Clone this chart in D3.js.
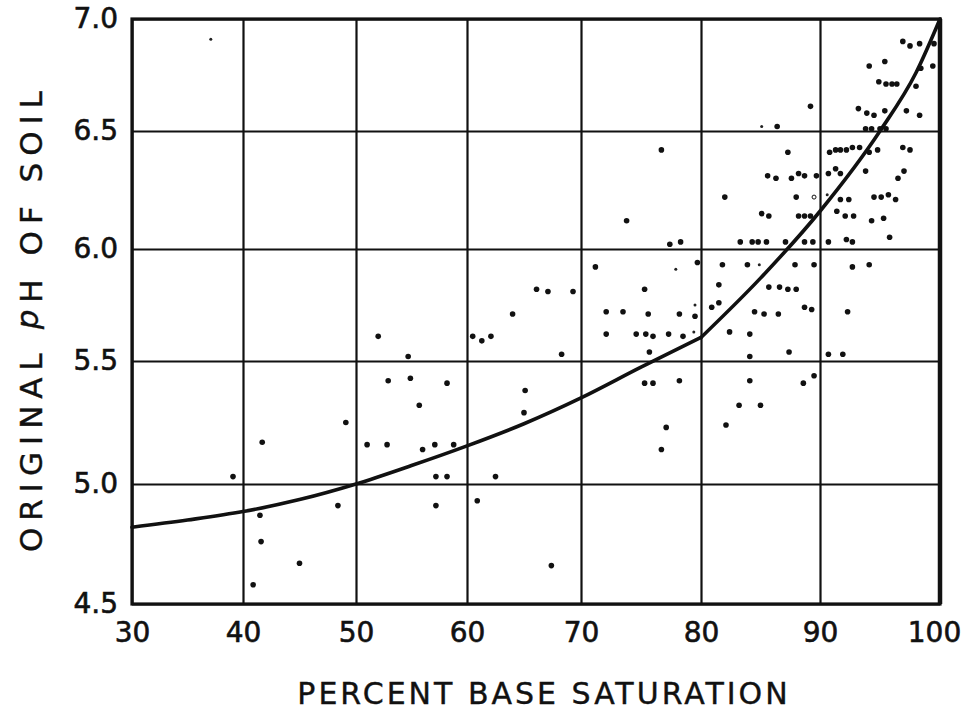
<!DOCTYPE html>
<html><head><meta charset="utf-8">
<script src="https://cdn.jsdelivr.net/npm/d3@7"></script>
<style>html,body{margin:0;padding:0;background:#fff}</style>
</head><body>
<svg id="chart" width="966" height="713"></svg>
<script>
// ---------------- data ----------------
const xTicks = [30, 40, 50, 60, 70, 80, 90, 100];
const yTicks = [4.5, 5.0, 5.5, 6.0, 6.5, 7.0];
const xTickLabels = ["30", "40", "50", "60", "70", "80", "90", "100"];
const yTickLabels = ["4.5", "5.0", "5.5", "6.0", "6.5", "7.0"];
const xTitle = "PERCENT BASE SATURATION";
const yTitleParts = ["ORIGINAL ", "p", "H OF SOIL"];

// fitted curve: percent base saturation vs pH (two pieces, kink at 80%)
const curveLow = [[30,4.82],[35,4.85],[40,4.885],[45,4.935],[50,5.00],[55,5.075],[60,5.155],[65,5.245],[70,5.35],[75,5.475],[80,5.605]];
const curveHigh = [[80,5.605],[85,5.87],[90,6.16],[95,6.50],[98,6.76],[100,7.0]];

// observed soils [percent base saturation, pH]
const points = [
 [39.1,5.03],[41.7,5.17],[41.5,4.87],[41.6,4.76],[40.9,4.58],[45.0,4.67],[48.4,4.91],[49.1,5.25],[51.0,5.16],[52.0,5.61],
 [52.8,5.16],[52.9,5.42],[54.7,5.52],[54.9,5.43],[55.7,5.32],[56.0,5.14],[57.1,5.16],[58.8,5.16],[57.2,5.03],[58.2,5.03],
 [57.2,4.91],[58.2,5.41],[60.5,5.61],[61.3,5.59],[62.1,5.61],[62.5,5.03],[60.9,4.93],[64.0,5.71],[66.1,5.82],[67.1,5.81],
 [69.3,5.81],[68.3,5.53],[65.1,5.38],[65.0,5.29],[67.4,4.66],
 [71.2,5.92],[73.8,6.12],[76.7,6.42],[77.4,6.02],[78.3,6.03],[79.7,5.94],[75.3,5.82],[72.1,5.72],[73.5,5.72],[75.6,5.71],
 [78.2,5.71],[79.5,5.70],[72.1,5.62],[74.6,5.62],[75.4,5.62],[76.0,5.61],[77.3,5.62],[78.5,5.61],[75.7,5.54],[75.3,5.41],
 [76.0,5.41],[78.2,5.42],[77.1,5.23],[76.7,5.14],
 [81.8,5.93],[83.9,5.93],[87.9,5.93],[89.5,5.93],[81.5,5.84],[85.7,5.83],[86.6,5.83],[87.3,5.82],[88.0,5.82],[80.9,5.74],
 [81.5,5.76],[84.5,5.72],[85.3,5.71],[86.5,5.71],[88.7,5.74],[89.3,5.73],[82.4,5.63],[84.1,5.62],[84.1,5.52],[87.4,5.54],
 [84.1,5.42],[88.6,5.41],[89.5,5.44],[83.2,5.32],[85.0,5.32],[82.1,5.24],
 [92.7,5.92],[94.1,5.93],[92.3,5.72],[90.7,5.53],[91.9,5.53],
 [89.2,6.61],[86.4,6.52],[87.3,6.41],[85.6,6.31],[86.3,6.30],[87.6,6.30],[88.2,6.32],[88.7,6.31],[89.7,6.31],[82.0,6.22],
 [88.0,6.22],[85.1,6.15],[85.7,6.14],[88.2,6.14],[88.7,6.14],[89.2,6.14],[83.3,6.03],[84.3,6.03],[84.8,6.03],[85.5,6.03],
 [87.1,6.03],[88.7,6.03],[89.4,6.03],
 [96.9,6.90],[97.5,6.88],[98.3,6.89],[99.5,6.89],[94.1,6.79],[95.4,6.81],[98.4,6.78],[99.4,6.79],[94.9,6.72],[95.5,6.71],
 [96.0,6.71],[96.4,6.71],[98.0,6.70],[93.2,6.60],[93.9,6.58],[94.5,6.57],[95.4,6.59],[97.2,6.59],[98.3,6.57],[93.8,6.51],
 [94.3,6.51],[95.0,6.51],[95.5,6.51],[90.8,6.41],[91.3,6.42],[91.7,6.42],[92.2,6.42],[92.7,6.43],[93.3,6.43],[94.1,6.41],
 [94.8,6.42],[96.9,6.43],[97.5,6.42],[90.7,6.32],[91.3,6.34],[91.7,6.32],[93.8,6.33],[96.5,6.30],[97.0,6.33],[91.7,6.21],
 [92.4,6.21],[94.5,6.22],[95.1,6.22],[95.7,6.23],[96.3,6.21],[91.4,6.16],[92.1,6.14],[92.8,6.14],[94.3,6.12],[95.3,6.13],
 [90.7,6.03],[92.2,6.04],[92.7,6.03],[95.8,6.05]
];
const faintPoints = [[37.1,6.91],[77.9,5.91],[79.5,5.75],[79.4,5.63],[84.9,5.93],[85.1,6.52],[90.6,6.23]];
const openPoints = [[89.5,6.22]];

// ---------------- layout ----------------
(function () {
const svg = d3.select("#chart");
svg.append("rect").attr("width", 966).attr("height", 713).attr("fill", "#fff");

// hand-ruled grid: piecewise linear scales through the grid lines
const x = d3.scaleLinear().domain(xTicks).range([132, 243, 356, 467, 581, 701, 820, 940]);
const y = d3.scaleLinear().domain(yTicks).range([604, 484, 361, 249, 131, 19]);
const pLeft = x(30), pRight = x(100), pTop = y(7.0), pBottom = y(4.5);
const FONT = "'DejaVu Sans', 'Liberation Sans', sans-serif";

const gx = svg.append("g").attr("transform", `translate(0,${pBottom})`)
  .call(d3.axisBottom(x).tickValues(xTicks).tickSize(-(pBottom - pTop)).tickPadding(18)
        .tickFormat((d, i) => xTickLabels[i]));
gx.select(".domain").remove();
gx.selectAll("line").attr("stroke", "#111").attr("stroke-width", 2.2);
gx.selectAll("text").attr("font-family", FONT).attr("font-size", 28).attr("fill", "#111")
  .attr("stroke", "#111").attr("stroke-width", 0.6)
  .attr("dx", (d, i) => i === xTicks.length - 1 ? -6 : 0);

const gy = svg.append("g").attr("transform", `translate(${pLeft},0)`)
  .call(d3.axisLeft(y).tickValues(yTicks).tickSize(-(pRight - pLeft)).tickPadding(14)
        .tickFormat((d, i) => yTickLabels[i]));
gy.select(".domain").remove();
gy.selectAll("line").attr("stroke", "#111").attr("stroke-width", 2.2);
gy.selectAll("text").attr("font-family", FONT).attr("font-size", 28).attr("fill", "#111")
  .attr("stroke", "#111").attr("stroke-width", 0.6);

// frame
svg.append("rect").attr("x", pLeft).attr("y", pTop).attr("width", pRight - pLeft).attr("height", pBottom - pTop)
  .attr("fill", "none").attr("stroke", "#111").attr("stroke-width", 3.2);
svg.append("line").attr("x1", pRight).attr("x2", pRight).attr("y1", pTop).attr("y2", pBottom)
  .attr("stroke", "#111").attr("stroke-width", 4.5);

// curve
const line = d3.line().x(d => x(d[0])).y(d => y(d[1])).curve(d3.curveMonotoneX);
[curveLow, curveHigh].forEach(c => {
  svg.append("path").datum(c).attr("d", line).attr("fill", "none")
    .attr("stroke", "#111").attr("stroke-width", 3.6).attr("stroke-linejoin", "round").attr("stroke-linecap", "round");
});

// points
svg.append("g").selectAll("circle").data(points).join("circle")
  .attr("cx", d => x(d[0])).attr("cy", d => y(d[1])).attr("r", 2.8).attr("fill", "#111");
svg.append("g").selectAll("circle").data(faintPoints).join("circle")
  .attr("cx", d => x(d[0])).attr("cy", d => y(d[1])).attr("r", 1.5).attr("fill", "#222");
svg.append("g").selectAll("circle").data(openPoints).join("circle")
  .attr("cx", d => x(d[0])).attr("cy", d => y(d[1])).attr("r", 2).attr("fill", "none")
  .attr("stroke", "#111").attr("stroke-width", 1);

// axis titles
svg.append("text").attr("x", 544).attr("y", 704).attr("text-anchor", "middle")
  .attr("font-family", FONT).attr("font-size", 30).attr("letter-spacing", 3).attr("fill", "#111")
  .attr("stroke", "#111").attr("stroke-width", 0.4)
  .text(xTitle);

const yt = svg.append("text").attr("transform", "translate(42,318) rotate(-90)").attr("text-anchor", "middle")
  .attr("font-family", FONT).attr("font-size", 31).attr("letter-spacing", 7).attr("fill", "#111")
  .attr("stroke", "#111").attr("stroke-width", 0.4);
yt.append("tspan").text(yTitleParts[0]);
yt.append("tspan").attr("font-style", "italic").attr("dy", -4).text(yTitleParts[1]);
yt.append("tspan").attr("dy", 4).text(yTitleParts[2]);
})();
</script>
</body></html>
